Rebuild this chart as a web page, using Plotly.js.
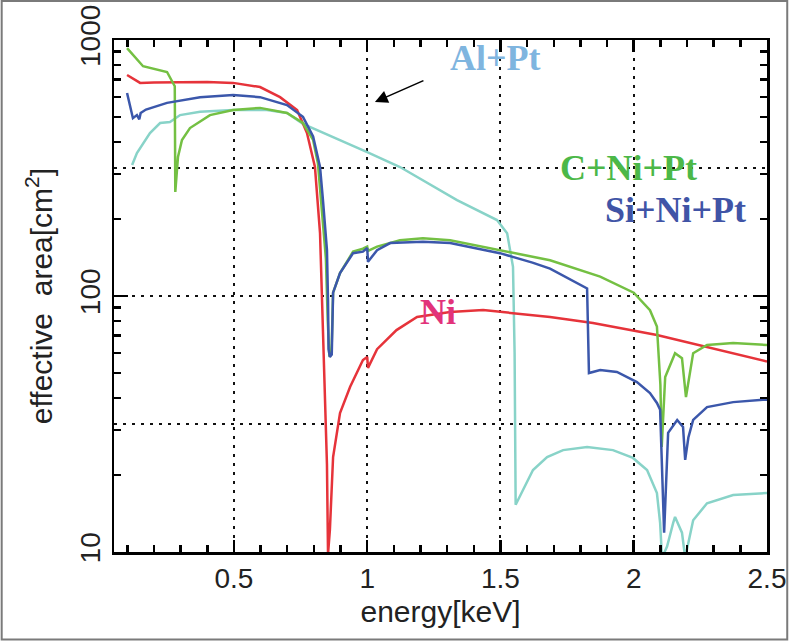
<!DOCTYPE html>
<html>
<head>
<meta charset="utf-8">
<script src="https://cdn.plot.ly/plotly-3.0.1.min.js"></script>
<style>
  html, body { margin: 0; padding: 0; background: #fff; }
  #chart { width: 789px; height: 642px; }
</style>
</head>
<body>
<div id="chart"></div>
<script>
// effective area curves (energy in keV, area in cm^2)
const niEnergy = [0.099, 0.148, 0.2, 0.3, 0.4, 0.497, 0.598, 0.673, 0.737, 0.774, 0.804, 0.823, 0.834, 0.849, 0.853,
  0.86, 0.872, 0.898, 0.936, 0.984, 1.0, 1.003, 1.037, 1.11, 1.187, 1.311, 1.435, 1.622, 1.686, 1.847, 2.087, 2.5];
const niArea = [730, 680, 683, 686, 686, 680, 655, 598, 533, 433, 319, 176, 74, 22, 9.8,
  12.2, 23.5, 34.9, 44.2, 56.2, 57.8, 52.4, 62, 73.6, 82.8, 86.6, 88.1, 84.3, 82.8, 78.5, 70.4, 55.5];

const alEnergy = [0.118, 0.136, 0.185, 0.223, 0.26, 0.298, 0.373, 0.497, 0.624, 0.699, 0.759, 0.812, 1.0, 1.123,
  1.337, 1.487, 1.525, 1.547, 1.553, 1.555, 1.557, 1.585, 1.622, 1.675, 1.735, 1.825, 1.922, 1.997, 2.05, 2.087,
  2.099, 2.106, 2.125, 2.148, 2.155, 2.181, 2.193, 2.223, 2.275, 2.373, 2.485, 2.5];
const alArea = [325, 362, 433, 474, 478, 509, 524, 533, 533, 519, 470, 445, 365, 319,
  237, 198, 176, 130, 60, 30, 15.3, 17.5, 20.9, 23.5, 25, 25.7, 25, 23.3, 20.9, 17,
  13, 9.5, 10.5, 13, 13.7, 11.9, 9.5, 13.3, 15.5, 16.7, 17, 17];

const cEnergy = [0.099, 0.159, 0.249, 0.268, 0.278, 0.28, 0.29, 0.305, 0.335, 0.41, 0.497, 0.598, 0.699, 0.759,
  0.797, 0.815, 0.83, 0.845, 0.852, 0.858, 0.866, 0.872, 0.898, 0.947, 0.984, 1.0, 1.003, 1.037, 1.123, 1.209,
  1.311, 1.498, 1.686, 1.874, 2.0, 2.061, 2.087, 2.1, 2.105, 2.118, 2.155, 2.181, 2.196, 2.223, 2.275, 2.373,
  2.485, 2.5];
const cArea = [930, 790, 750, 690, 660, 255, 349, 407, 453, 509, 533, 543, 519, 474,
  407, 330, 220, 140, 80, 58, 60, 103, 123, 149, 153, 156, 150, 156, 165, 168,
  165, 151, 138, 119, 103, 88, 76, 45, 25.7, 48.3, 59.8, 57.2, 40.3, 59.8, 64.4, 65.5,
  64.4, 64.4];

const siEnergy = [0.099, 0.121, 0.136, 0.145, 0.15, 0.17, 0.249, 0.373, 0.497, 0.598, 0.699, 0.759, 0.797, 0.823,
  0.834, 0.849, 0.853, 0.855, 0.86, 0.867, 0.872, 0.898, 0.947, 0.984, 1.0, 1.003, 1.037, 1.086, 1.209, 1.311,
  1.498, 1.62, 1.686, 1.825, 1.832, 1.874, 1.937, 2.012, 2.061, 2.087, 2.099, 2.114, 2.129, 2.163, 2.185, 2.193,
  2.205, 2.223, 2.275, 2.373, 2.485, 2.5];
const siArea = [621, 495, 509, 490, 519, 535, 568, 598, 610, 598, 557, 501, 420, 319,
  237, 151, 96, 62, 57.8, 59, 103, 123, 147, 149, 154, 136, 151, 161, 163, 161,
  147, 135, 128, 107, 50, 51.4, 50.5, 46.1, 41.8, 38.2, 36, 11.9, 29.2, 32.8, 30.8, 22.9,
  28, 32.8, 36.8, 38.5, 39.3, 39.3];

const yHalfDecades = [31.62, 316.2];

const sansFont = 'Liberation Sans, Arial, sans-serif';
const serifFont = 'Liberation Serif, Times New Roman, serif';
const dotted = '3px,6px';

function curve(x, y, color) {
  return {
    type: 'scatter',
    mode: 'lines',
    x: x,
    y: y,
    line: { color: color, width: 2.5 },
    hoverinfo: 'x+y'
  };
}

const traces = [
  curve(alEnergy, alArea, '#88d3c8'),
  curve(niEnergy, niArea, '#e6333a'),
  curve(cEnergy, cArea, '#74c043'),
  curve(siEnergy, siArea, '#3b57ab')
];

// dotted grid lines at the half decades, the axis grid gives the decade one
const shapes = yHalfDecades.map(v => ({
  type: 'line', xref: 'paper', yref: 'y',
  x0: 0, x1: 1, y0: v, y1: v,
  line: { color: '#111', width: 2, dash: dotted },
  layer: 'below'
}));
// thin frame round the whole picture
shapes.push({
  type: 'rect', xref: 'paper', yref: 'paper',
  x0: -0.172, x1: 1.031, y0: -0.171, y1: 1.076,
  line: { color: '#7a7a7a', width: 2 }
});

function label(text, x, logY, color) {
  return {
    x: x, y: logY, xref: 'x', yref: 'y',
    text: '<b>' + text + '</b>',
    showarrow: false,
    font: { family: serifFont, size: 36, color: color }
  };
}

const annotations = [
  label('Al+Pt', 1.483, 2.93, '#7fb5df'),
  label('C+Ni+Pt', 1.979, 2.5, '#4cb848'),
  label('Si+Ni+Pt', 2.155, 2.336, '#4054a6'),
  label('Ni', 1.266, 1.9375, '#e2337a'),
  {
    x: 1.029, y: 2.758, xref: 'x', yref: 'y',
    text: '', showarrow: true,
    ax: 50, ay: -22,
    arrowhead: 2, arrowsize: 1.6, arrowwidth: 1.6, arrowcolor: '#000'
  }
];

const layout = {
  width: 789,
  height: 642,
  margin: { l: 114, r: 22, t: 40, b: 90 },
  paper_bgcolor: '#fff',
  plot_bgcolor: '#fff',
  showlegend: false,
  xaxis: {
    range: [0.05, 2.5],
    tickmode: 'linear',
    tick0: 0,
    dtick: 0.5,
    ticks: 'inside',
    ticklen: 12,
    tickwidth: 2.5,
    tickcolor: '#000',
    minor: { dtick: 0.1, ticks: 'inside', ticklen: 7, tickwidth: 2.5, tickcolor: '#000' },
    showline: true,
    linecolor: '#000',
    linewidth: 2.5,
    mirror: 'allticks',
    showgrid: true,
    gridcolor: '#111',
    gridwidth: 2,
    griddash: dotted,
    zeroline: false,
    tickfont: { family: sansFont, size: 28, color: '#222' },
    title: { text: 'energy[keV]', font: { family: sansFont, size: 30, color: '#222' }, standoff: 8 }
  },
  yaxis: {
    type: 'log',
    range: [1, 3],
    dtick: 1,
    tickangle: -90,
    ticks: 'inside',
    ticklen: 14,
    tickwidth: 2.5,
    tickcolor: '#000',
    minor: { dtick: 'D1', ticks: 'inside', ticklen: 7, tickwidth: 2.5, tickcolor: '#000' },
    showline: true,
    linecolor: '#000',
    linewidth: 2.5,
    mirror: 'allticks',
    showgrid: true,
    gridcolor: '#111',
    gridwidth: 2,
    griddash: dotted,
    zeroline: false,
    tickfont: { family: sansFont, size: 28, color: '#222' },
    title: { text: 'effective  area[cm<sup>2</sup>]', font: { family: sansFont, size: 30, color: '#222' }, standoff: 14 }
  },
  shapes: shapes,
  annotations: annotations
};

Plotly.newPlot('chart', traces, layout, { displayModeBar: false, staticPlot: true });
</script>
</body>
</html>
